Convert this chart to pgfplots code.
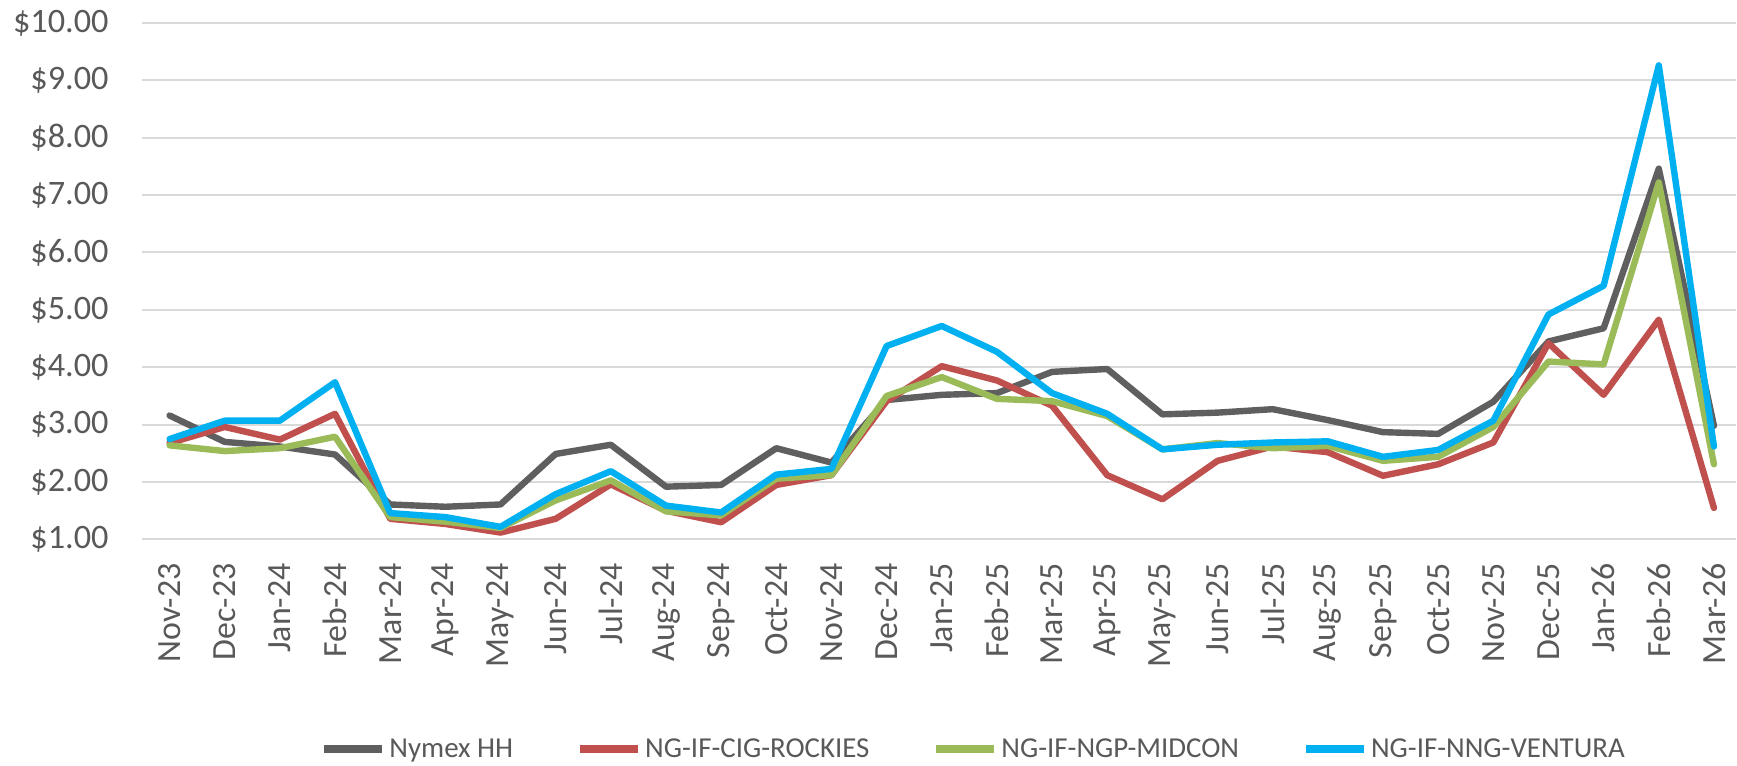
\documentclass[border=0pt]{standalone}
\usepackage{fontspec}
\setmainfont{Carlito}
\usepackage{pgfplots}
\pgfplotsset{compat=1.18}
\definecolor{cgray}{HTML}{5F5F5F}
\definecolor{cred}{HTML}{C0504D}
\definecolor{cgreen}{HTML}{9BBB59}
\definecolor{cblue}{HTML}{00B0F0}
\definecolor{gridc}{HTML}{D9D9D9}
\definecolor{txt}{HTML}{595959}
\begin{document}
\begin{tikzpicture}
\begin{axis}[
  name=ax,
  at={(0,0)}, anchor=south west,
  width=797bp, height=258.3bp, scale only axis,
  xmin=-0.5, xmax=28.4, ymin=1, ymax=10,
  axis line style={draw=none},
  major tick length=0pt,
  ymajorgrids, grid style={color=gridc, line width=1bp},
  ytick={1,2,3,4,5,6,7,8,9,10},
  yticklabels={\$1.00,\$2.00,\$3.00,\$4.00,\$5.00,\$6.00,\$7.00,\$8.00,\$9.00,\$10.00},
  xtick={0,...,28},
  xticklabels={Nov-23,Dec-23,Jan-24,Feb-24,Mar-24,Apr-24,May-24,Jun-24,Jul-24,Aug-24,Sep-24,Oct-24,Nov-24,Dec-24,Jan-25,Feb-25,Mar-25,Apr-25,May-25,Jun-25,Jul-25,Aug-25,Sep-25,Oct-25,Nov-25,Dec-25,Jan-26,Feb-26,Mar-26},
  xticklabel style={rotate=90, anchor=east, inner sep=0pt, font=\fontsize{17}{20}\selectfont, text=txt},
  xticklabel shift=11.75bp,
  yticklabel style={anchor=east, inner sep=0pt, font=\fontsize{17.2}{20}\selectfont, text=txt},
  yticklabel shift=16.5bp,
  legend columns=4,
  legend style={at={(0.522,-0.4065)}, anchor=center, draw=none, fill=none,
    font=\fontsize{14.5}{17}\selectfont, text=txt, inner sep=0pt,
    /tikz/every even column/.append style={column sep=30bp},
    nodes={inner sep=1.5bp}},
  legend image code/.code={\draw[#1, line width=4bp, line cap=butt] (0bp,0bp) -- (29bp,0bp);},
  every axis plot/.append style={line width=3.2bp, line join=round, line cap=round, mark=none},
]
\addplot[cgray] coordinates {(0,3.16)(1,2.70)(2,2.62)(3,2.48)(4,1.61)(5,1.57)(6,1.61)(7,2.49)(8,2.65)(9,1.92)(10,1.95)(11,2.59)(12,2.34)(13,3.43)(14,3.52)(15,3.55)(16,3.92)(17,3.97)(18,3.18)(19,3.21)(20,3.27)(21,3.08)(22,2.87)(23,2.84)(24,3.40)(25,4.45)(26,4.68)(27,7.46)(28,2.98)};
\addlegendentry{Nymex HH}
\addplot[cred] coordinates {(0,2.68)(1,2.96)(2,2.74)(3,3.19)(4,1.36)(5,1.27)(6,1.12)(7,1.36)(8,1.96)(9,1.50)(10,1.30)(11,1.95)(12,2.12)(13,3.41)(14,4.02)(15,3.77)(16,3.33)(17,2.12)(18,1.70)(19,2.37)(20,2.62)(21,2.52)(22,2.11)(23,2.31)(24,2.69)(25,4.42)(26,3.52)(27,4.83)(28,1.55)};
\addlegendentry{NG-IF-CIG-ROCKIES}
\addplot[cgreen] coordinates {(0,2.64)(1,2.54)(2,2.59)(3,2.79)(4,1.39)(5,1.31)(6,1.20)(7,1.68)(8,2.03)(9,1.49)(10,1.42)(11,2.06)(12,2.12)(13,3.50)(14,3.83)(15,3.45)(16,3.41)(17,3.15)(18,2.57)(19,2.68)(20,2.59)(21,2.63)(22,2.37)(23,2.44)(24,2.96)(25,4.10)(26,4.05)(27,7.22)(28,2.31)};
\addlegendentry{NG-IF-NGP-MIDCON}
\addplot[cblue] coordinates {(0,2.75)(1,3.07)(2,3.07)(3,3.74)(4,1.46)(5,1.39)(6,1.22)(7,1.79)(8,2.19)(9,1.59)(10,1.47)(11,2.13)(12,2.23)(13,4.37)(14,4.72)(15,4.27)(16,3.55)(17,3.19)(18,2.57)(19,2.65)(20,2.69)(21,2.71)(22,2.44)(23,2.56)(24,3.07)(25,4.92)(26,5.42)(27,9.26)(28,2.62)};
\addlegendentry{NG-IF-NNG-VENTURA}
\end{axis}
\pgfresetboundingbox
\path[use as bounding box] ([shift={(-71bp,-113.25bp)}]ax.south west) rectangle ([shift={(0.5bp,11.45bp)}]ax.north east);
\end{tikzpicture}
\end{document}
